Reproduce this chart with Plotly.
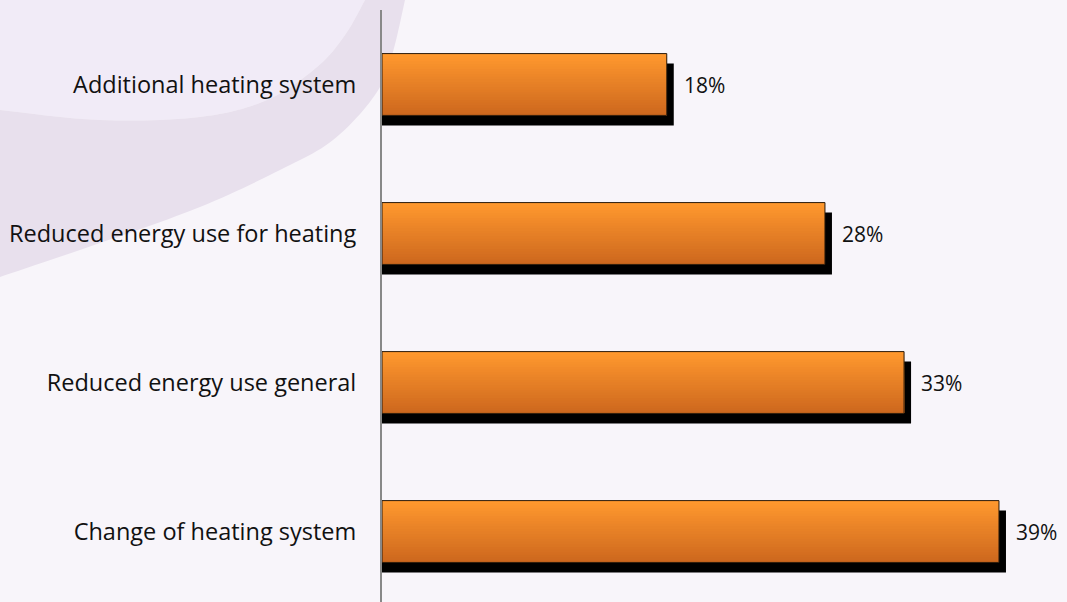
import plotly.graph_objects as go

categories = ["Additional heating system", "Reduced energy use for heating",
              "Reduced energy use general", "Change of heating system"]
values = [18, 28, 33, 39]
value_labels = ["18%", "28%", "33%", "39%"]

W, H = 1067, 602
ML, MR, MT, MB = 382, 0, 10, 0
PW, PH = W - ML - MR, H - MT - MB
XMAX = PW / 15.82

def px2paper(px, py):
    return (px - ML) / PW, 1 - (py - MT) / PH

def path_from(points):
    pts = [px2paper(x, y) for x, y in points]
    return "M " + " L ".join(f"{x:.5f},{y:.5f}" for x, y in pts) + " Z"

def smooth(pts, n=12):
    # Catmull-Rom interpolation of the outline
    out = []
    P = [pts[0]] + pts + [pts[-1]]
    for i in range(1, len(P) - 2):
        p0, p1, p2, p3 = P[i - 1], P[i], P[i + 1], P[i + 2]
        for k in range(n):
            t = k / n
            t2, t3 = t * t, t * t * t
            x = 0.5 * ((2 * p1[0]) + (-p0[0] + p2[0]) * t + (2 * p0[0] - 5 * p1[0] + 4 * p2[0] - p3[0]) * t2 + (-p0[0] + 3 * p1[0] - 3 * p2[0] + p3[0]) * t3)
            y = 0.5 * ((2 * p1[1]) + (-p0[1] + p2[1]) * t + (2 * p0[1] - 5 * p1[1] + 4 * p2[1] - p3[1]) * t2 + (-p0[1] + 3 * p1[1] - 3 * p2[1] + p3[1]) * t3)
            out.append((x, y))
    out.append(pts[-1])
    return out

upper = [(0, 110), (100, 120), (200, 117), (267, 100), (317, 67), (345, 35), (365, 0)]
lower = [(405, 0), (392, 55), (375, 95), (333, 140), (280, 170), (200, 207), (100, 243), (0, 277)]
up_s = smooth(upper)
lo_s = smooth(lower)

topleft = [(0, 0)] + up_s[::-1]
band = up_s + lo_s

BAR_W = 0.415
BAR_OFF = -BAR_W / 2
SH_DX = 7 / 15.82
SH_DY = 10 / 149

fig = go.Figure()

# shadow
fig.add_trace(go.Bar(
    y=categories, x=[v + SH_DX for v in values], orientation="h",
    width=BAR_W, offset=BAR_OFF + SH_DY,
    marker=dict(color="#000000", line=dict(width=0)),
    hoverinfo="skip", showlegend=False))

# gradient slices: each slice runs from its top down to the bar bottom,
# later (darker) slices cover the lower part -> no seams
N = 24
c_top = (255, 152, 46)
c_bot = (205, 104, 30)
for i in range(N):
    t = i / (N - 1)
    col = tuple(round(c_top[j] + (c_bot[j] - c_top[j]) * t) for j in range(3))
    start = BAR_OFF + i * BAR_W / N
    fig.add_trace(go.Bar(
        y=categories, x=values, orientation="h",
        width=BAR_W - i * BAR_W / N, offset=start,
        marker=dict(color=f"rgb{col}", line=dict(width=0)),
        hoverinfo="skip", showlegend=False))

# outline
fig.add_trace(go.Bar(
    y=categories, x=values, orientation="h",
    width=BAR_W, offset=BAR_OFF,
    marker=dict(color="rgba(0,0,0,0)", line=dict(width=1, color="#2a1a0a")),
    showlegend=False))

for c, v, lab in zip(categories, values, value_labels):
    fig.add_annotation(x=v, y=c, text=lab, showarrow=False, xanchor="left",
                       xshift=15, font=dict(size=21, color="#111111"))

fig.update_layout(
    width=W, height=H,
    margin=dict(l=ML, r=MR, t=MT, b=MB, pad=0),
    paper_bgcolor="#F8F5FA", plot_bgcolor="rgba(0,0,0,0)",
    barmode="overlay",
    font=dict(family="Open Sans, Noto Sans, sans-serif", color="#111111"),
    xaxis=dict(range=[0, XMAX], visible=False, fixedrange=True),
    yaxis=dict(type="category", range=[3.973 - 0.5, -0.5], showline=True,
               linecolor="#888888", linewidth=2, ticks="", showgrid=False,
               zeroline=False, ticklabelstandoff=19, fixedrange=True,
               tickfont=dict(size=23.5, color="#111111")),
    shapes=[
        dict(type="path", xref="paper", yref="paper", path=path_from(topleft),
             fillcolor="#F1EBF7", line=dict(width=0), layer="below"),
        dict(type="path", xref="paper", yref="paper", path=path_from(band),
             fillcolor="#E8E0ED", line=dict(width=0), layer="below"),
    ],
    showlegend=False,
)

fig.write_html("out.html", config={"displayModeBar": False},
               post_script="document.body.style.margin='0';")
